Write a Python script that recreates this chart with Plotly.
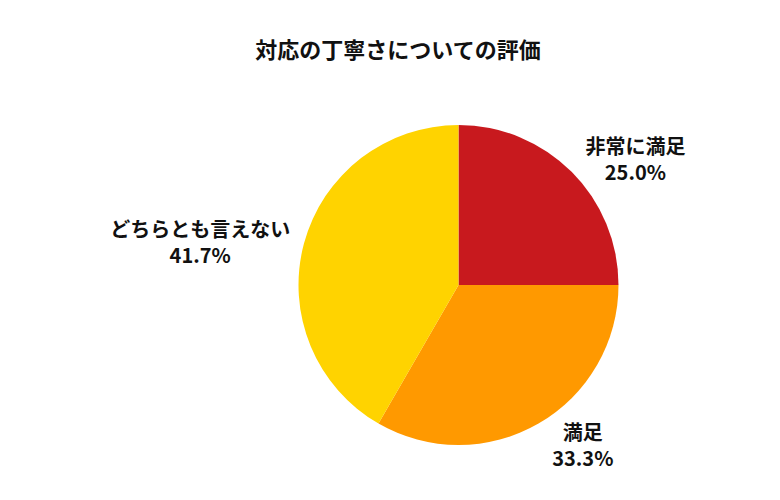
import plotly.graph_objects as go

labels = ["非常に満足", "満足", "どちらとも言えない"]
values = [3, 4, 5]
colors = ["#C8191E", "#FF9900", "#FFD300"]

fig = go.Figure(go.Pie(
    labels=labels, values=values, sort=False, direction="clockwise", rotation=0,
    marker=dict(colors=colors),
    textposition="outside", texttemplate="<b>%{label}<br>%{percent:.1%}</b>",
    textfont=dict(size=20, color="#111"), showlegend=False, hoverinfo="skip",
))
fig.update_layout(
    width=780, height=500, paper_bgcolor="white",
    font=dict(family="Noto Sans CJK JP"),
    title=dict(text="<b>対応の丁寧さについての評価</b>", x=0.5, y=0.93, xanchor="center",
               font=dict(size=22, color="#111")),
    margin=dict(l=0, r=106, t=117, b=63),
)
fig.write_html("out.html")
